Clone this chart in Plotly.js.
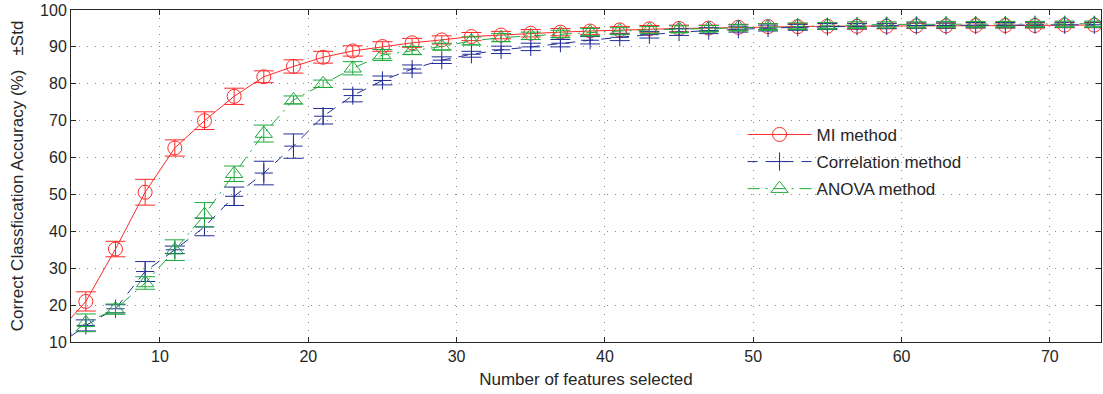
<!DOCTYPE html>
<html>
<head>
<meta charset="utf-8">
<script src="https://cdn.plot.ly/plotly-3.0.1.min.js"></script>
<style>html,body{margin:0;padding:0;background:#fff;}#chart{width:1103px;height:394px;}</style>
</head>
<body>
<div id="chart"></div>
<script>
const features = [3,5,7,9,11,13,15,17,19,21,23,25,27,29,31,33,35,37,39,41,43,45,47,49,51,53,55,57,59,61,63,65,67,69,71,73];

const miMean = [12,21,35.2,50.6,62.6,70,76.6,81.9,84.7,87.2,88.9,90.1,91.1,91.9,92.8,93.2,93.7,94.0,94.3,94.6,94.9,95.0,95.1,95.3,95.5,95.5,95.6,95.6,95.6,95.7,95.7,95.8,95.8,95.8,95.9,95.9];
const miStd  = [2,2.6,2.1,3.5,2.2,2.4,2.2,1.6,1.8,1.6,1.4,1.3,1.2,1.1,1.1,1.0,1.0,1.0,0.9,0.9,0.9,0.9,0.8,0.8,0.8,0.8,0.8,0.8,0.7,0.7,0.7,0.7,0.7,0.7,0.7,0.7];

const corrMean = [8.7,14.5,19.0,29.1,35.0,41.2,49.5,55.8,63.1,71.2,76.8,80.9,84.0,86.4,88.0,89.2,90.0,91.0,91.8,92.6,93.3,94.0,94.4,94.8,95.1,95.3,95.5,95.6,95.7,95.8,95.8,95.9,95.9,96.0,96.0,96.0];
const corrStd  = [1.5,1.5,1.1,2.7,1.0,2.4,2.5,3.2,3.3,2.1,1.7,1.2,1.1,0.9,0.8,1.0,1.0,1.0,1.0,0.9,0.9,0.9,0.8,0.8,0.8,0.8,0.8,0.7,0.7,0.7,0.7,0.7,0.7,0.7,0.7,0.7];

const anovaMean = [9,15.2,18.9,26.0,34.9,44.5,55.6,66.5,75.6,80.0,84.2,87.8,89.0,90.1,91.6,92.5,93.0,93.5,94.0,94.3,94.6,94.8,95.0,95.3,95.5,95.7,95.8,96.0,96.1,96.1,96.2,96.2,96.2,96.2,96.3,96.3];
const anovaStd  = [2,2.4,1.4,1.7,2.8,3.3,2.1,2.3,1.1,1.0,1.8,1.5,1.1,0.9,1.1,1.1,1.0,1.0,1.0,0.9,0.9,0.9,0.8,0.8,0.8,0.8,0.8,0.8,0.7,0.7,0.7,0.7,0.7,0.7,0.7,0.7];

const seriesNames = ['MI method','Correlation method','ANOVA method'];
const xTicks = [10,20,30,40,50,60,70];
const yTicks = [10,20,30,40,50,60,70,80,90,100];

const red = 'rgb(255,40,40)', blue = 'rgb(35,45,150)', green = 'rgb(30,170,60)';

function trace(name, y, err, color, dash, symbol, size, group) {
  return {
    type: 'scatter', mode: 'lines+markers', name: name, x: features, y: y,
    legendgroup: group,
    line: {color: color, width: 1, dash: dash},
    marker: {symbol: symbol, size: size, color: color, line: {color: color, width: 1}},
    error_y: {type: 'data', array: err, visible: true, color: color, thickness: 1, width: 10}
  };
}

const data = [
  trace(seriesNames[0], miMean, miStd, red, 'solid', 'circle-open', 14, 'a'),
  trace(seriesNames[1], corrMean, corrStd, blue, '10px,8px', 'cross-thin-open', 13, 'b'),
  trace(seriesNames[2], anovaMean, anovaStd, green, '12px,6px,2px,6px', 'triangle-up-open', 15, 'c')
];

const fontFam = '"Liberation Sans", Arial, Helvetica, sans-serif';
const txt = '#262626';
const axisCommon = {
  showline: true, linecolor: txt, linewidth: 1, mirror: 'ticks',
  ticks: 'inside', ticklen: 5, tickcolor: txt,
  showgrid: true, gridcolor: '#8a8a8a', gridwidth: 1, griddash: '1px,7px',
  zeroline: false, tickfont: {family: fontFam, size: 16, color: txt}
};

const layout = {
  width: 1103, height: 394,
  margin: {l: 71, r: 2, t: 10, b: 52},
  paper_bgcolor: '#fff', plot_bgcolor: '#fff',
  font: {family: fontFam, size: 16, color: txt},
  xaxis: Object.assign({}, axisCommon, {
    range: [4, 73.45], tickvals: xTicks, ticktext: xTicks.map(String),
    title: {text: 'Number of features selected', font: {family: fontFam, size: 17, color: txt}, standoff: 8}
  }),
  yaxis: Object.assign({}, axisCommon, {
    range: [10, 100], tickvals: yTicks, ticktext: yTicks.map(String),
    title: {text: 'Correct Classfication Accuracy (%)   \u00B1Std', font: {family: fontFam, size: 17, color: txt}, standoff: 12}
  }),
  showlegend: true,
  legend: {
    x: 0.652, y: 0.678, xanchor: 'left', yanchor: 'top',
    bgcolor: 'rgba(0,0,0,0)', borderwidth: 0,
    font: {family: fontFam, size: 17, color: txt},
    itemwidth: 64, tracegroupgap: 2
  }
};

Plotly.newPlot('chart', data, layout, {displayModeBar: false, staticPlot: true});
</script>
</body>
</html>
